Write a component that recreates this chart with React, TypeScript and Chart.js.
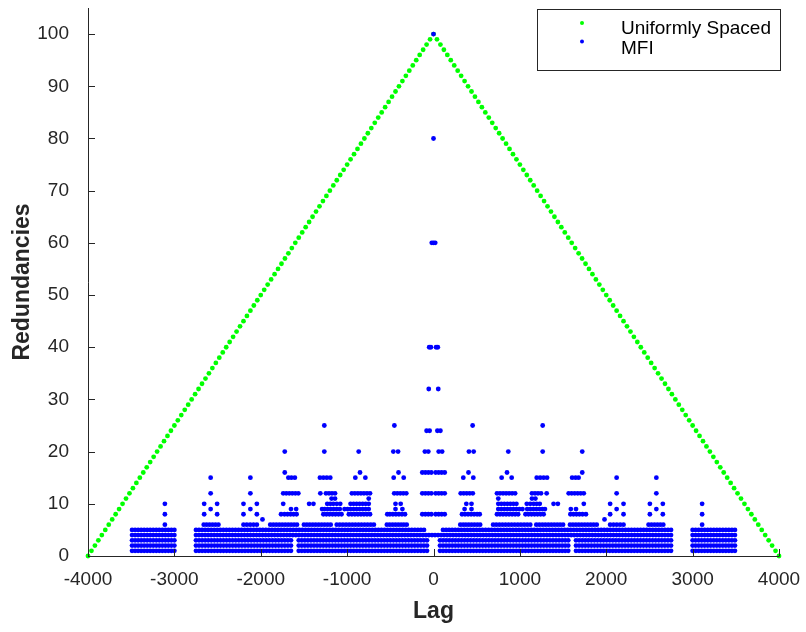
import React, { useEffect, useRef } from 'react';
import { Chart, registerables } from 'chart.js';

Chart.register(...registerables);

// ---------- axis ticks ----------
const xTickValues = [-4000, -3000, -2000, -1000, 0, 1000, 2000, 3000, 4000];
const yTickValues = [0, 10, 20, 30, 40, 50, 60, 70, 80, 90, 100];

// ---------- Uniformly Spaced (green) ----------
const uniformLags = [
  -4000, -3960, -3920, -3880, -3840, -3800, -3760, -3720, -3680, -3640,
  -3600, -3560, -3520, -3480, -3440, -3400, -3360, -3320, -3280, -3240,
  -3200, -3160, -3120, -3080, -3040, -3000, -2960, -2920, -2880, -2840,
  -2800, -2760, -2720, -2680, -2640, -2600, -2560, -2520, -2480, -2440,
  -2400, -2360, -2320, -2280, -2240, -2200, -2160, -2120, -2080, -2040,
  -2000, -1960, -1920, -1880, -1840, -1800, -1760, -1720, -1680, -1640,
  -1600, -1560, -1520, -1480, -1440, -1400, -1360, -1320, -1280, -1240,
  -1200, -1160, -1120, -1080, -1040, -1000, -960, -920, -880, -840,
  -800, -760, -720, -680, -640, -600, -560, -520, -480, -440,
  -400, -360, -320, -280, -240, -200, -160, -120, -80, -40,
  0,
  40, 80, 120, 160, 200, 240, 280, 320, 360, 400,
  440, 480, 520, 560, 600, 640, 680, 720, 760, 800,
  840, 880, 920, 960, 1000, 1040, 1080, 1120, 1160, 1200,
  1240, 1280, 1320, 1360, 1400, 1440, 1480, 1520, 1560, 1600,
  1640, 1680, 1720, 1760, 1800, 1840, 1880, 1920, 1960, 2000,
  2040, 2080, 2120, 2160, 2200, 2240, 2280, 2320, 2360, 2400,
  2440, 2480, 2520, 2560, 2600, 2640, 2680, 2720, 2760, 2800,
  2840, 2880, 2920, 2960, 3000, 3040, 3080, 3120, 3160, 3200,
  3240, 3280, 3320, 3360, 3400, 3440, 3480, 3520, 3560, 3600,
  3640, 3680, 3720, 3760, 3800, 3840, 3880, 3920, 3960, 4000,
];
const uniformRedundancy = [
  0, 1, 2, 3, 4, 5, 6, 7, 8, 9,
  10, 11, 12, 13, 14, 15, 16, 17, 18, 19,
  20, 21, 22, 23, 24, 25, 26, 27, 28, 29,
  30, 31, 32, 33, 34, 35, 36, 37, 38, 39,
  40, 41, 42, 43, 44, 45, 46, 47, 48, 49,
  50, 51, 52, 53, 54, 55, 56, 57, 58, 59,
  60, 61, 62, 63, 64, 65, 66, 67, 68, 69,
  70, 71, 72, 73, 74, 75, 76, 77, 78, 79,
  80, 81, 82, 83, 84, 85, 86, 87, 88, 89,
  90, 91, 92, 93, 94, 95, 96, 97, 98, 99,
  100,
  99, 98, 97, 96, 95, 94, 93, 92, 91, 90,
  89, 88, 87, 86, 85, 84, 83, 82, 81, 80,
  79, 78, 77, 76, 75, 74, 73, 72, 71, 70,
  69, 68, 67, 66, 65, 64, 63, 62, 61, 60,
  59, 58, 57, 56, 55, 54, 53, 52, 51, 50,
  49, 48, 47, 46, 45, 44, 43, 42, 41, 40,
  39, 38, 37, 36, 35, 34, 33, 32, 31, 30,
  29, 28, 27, 26, 25, 24, 23, 22, 21, 20,
  19, 18, 17, 16, 15, 14, 13, 12, 11, 10,
  9, 8, 7, 6, 5, 4, 3, 2, 1, 0,
];

// ---------- MFI (blue): sparse levels, lags per redundancy value ----------
const mfiLevels = [100, 80, 60, 40, 32, 25, 24, 20, 16, 15, 12, 11, 10, 9, 8, 7];
const mfiLags100 = [0];
const mfiLags80 = [0];
const mfiLags60 = [-20, 0, 20];
const mfiLags40 = [-50, -30, 30, 50];
const mfiLags32 = [-55, 55];
const mfiLags25 = [-1264, -453, 453, 1264];
const mfiLags24 = [-80, -45, 45, 80];
const mfiLags20 = [-1722, -1264, -866, -465, -410, -100, -60, 60, 100, 410, 465, 866, 1264, 1722];
const mfiLags16 = [-1722, -851, -405, -130, -95, -60, -25, 25, 60, 95, 130, 405, 851, 1722];
const mfiLags15 = [
  -2580, -2120, -1680, -1645, -1605, -1315, -1275, -1235, -1195, -905, -789, -461, -345,
  345, 461, 789, 905, 1195, 1235, 1275, 1315, 1605, 1645, 1680, 2120, 2580,
];
const mfiLags12 = [
  -2580, -2120, -1740, -1705, -1670, -1635, -1600, -1565, -1310, -1245, -1210, -1175, -1140,
  -945, -910, -875, -840, -805, -770, -735, -455, -420, -385, -350, -315,
  -130, -95, -60, -25, 25, 60, 95, 130,
  315, 350, 385, 420, 455, 735, 770, 805, 840, 875, 910, 945,
  1140, 1175, 1210, 1245, 1310, 1565, 1600, 1635, 1670, 1705, 1740, 2120, 2580,
];
const mfiLags11 = [-1180, -1140, -750, 750, 1140, 1180];
const mfiLags10 = [
  -3110, -2655, -2505, -2200, -2045, -1740, -1440, -1390, -1230, -1195, -1160, -1120, -1080,
  -960, -925, -890, -855, -820, -785, -750, -440, -380,
  380, 440, 750, 785, 820, 855, 890, 925, 960,
  1080, 1120, 1160, 1195, 1230, 1390, 1440, 1740, 2045, 2200, 2505, 2655, 3110,
];
const mfiLags9 = [
  -2580, -2120, -1650, -1590, -1290, -1260, -1225, -1190, -1155, -1120, -1085,
  -1030, -995, -960, -925, -890, -855, -820, -785, -750, -440, -360,
  360, 440, 750, 785, 820, 855, 890, 925, 960, 995, 1030,
  1085, 1120, 1155, 1190, 1225, 1260, 1290, 1590, 1650, 2120, 2580,
];
const mfiLags8 = [
  -3110, -2655, -2505, -2200, -2045, -1765, -1725, -1690, -1655, -1620, -1585,
  -1275, -1240, -1205, -1170, -1135, -1100, -1065,
  -980, -945, -910, -875, -840, -805, -770, -735,
  -535, -505, -470, -435, -400, -365, -330, -130, -95, -60, -25,
  25, 60, 95, 130, 330, 365, 400, 435, 470, 505, 535,
  735, 770, 805, 840, 875, 910, 945, 980,
  1065, 1100, 1135, 1170, 1205, 1240, 1275,
  1585, 1620, 1655, 1690, 1725, 1765, 2045, 2200, 2505, 2655, 3110,
];
const mfiLags7 = [-1980, 1980];

// ---------- MFI (blue): dense runs [from, to] per redundancy value ----------
const mfiRunSpacing = 35;
const mfiRuns6 = [
  [-3110, -3110], [-2660, -2490], [-2200, -2045], [-1890, -1580], [-1500, -1190], [-1120, -690], [-540, -310],
  [310, 540], [690, 1120], [1190, 1500], [1580, 1890], [2045, 2200], [2490, 2660], [3110, 3110],
];
const mfiRuns5 = [[-3490, -3000], [-2750, -110], [110, 2750], [3000, 3490]];
const mfiRuns4 = [[-3490, -3000], [-2750, 2750], [3000, 3490]];
const mfiRuns3 = [[-3490, -3000], [-2750, -1650], [-1560, -75], [75, 1560], [1650, 2750], [3000, 3490]];
const mfiRuns2 = [[-3490, -3000], [-2750, -1650], [-1560, -75], [75, 1560], [1650, 2750], [3000, 3490]];
const mfiRuns1 = [[-3490, -3000], [-2750, -1650], [-1560, -75], [75, 1560], [1650, 2750], [3000, 3490]];

const AXIS_COLOR = '#262626';
const FONT_FAMILY = '"Liberation Sans", Arial, Helvetica, sans-serif';
const DOT_RADIUS = 2.4;

function buildMfiPoints() {
  const sparse = [
    mfiLags100, mfiLags80, mfiLags60, mfiLags40, mfiLags32, mfiLags25, mfiLags24, mfiLags20,
    mfiLags16, mfiLags15, mfiLags12, mfiLags11, mfiLags10, mfiLags9, mfiLags8, mfiLags7,
  ];
  const pts: { x: number; y: number }[] = [];
  sparse.forEach((lags, i) => lags.forEach((x) => pts.push({ x, y: mfiLevels[i] })));
  const runs: [number, number[][]][] = [
    [6, mfiRuns6], [5, mfiRuns5], [4, mfiRuns4], [3, mfiRuns3], [2, mfiRuns2], [1, mfiRuns1],
  ];
  runs.forEach(([level, list]) => {
    list.forEach(([a, b]) => {
      if (a === b) {
        pts.push({ x: a, y: level });
        return;
      }
      const n = Math.max(1, Math.round((b - a) / mfiRunSpacing));
      for (let i = 0; i <= n; i++) pts.push({ x: a + ((b - a) * i) / n, y: level });
    });
  });
  return pts;
}

const decorPlugin = {
  id: 'matlabDecor',
  afterDraw(chart: any) {
    const { ctx, chartArea, scales } = chart;
    const { left, right, top, bottom } = chartArea;
    ctx.save();
    ctx.strokeStyle = AXIS_COLOR;
    ctx.lineWidth = 1;
    ctx.beginPath();
    // axis lines
    ctx.moveTo(Math.round(left) + 0.5, Math.round(top));
    ctx.lineTo(Math.round(left) + 0.5, Math.round(bottom) + 0.5);
    ctx.lineTo(Math.round(right) + 0.5, Math.round(bottom) + 0.5);
    // inward ticks
    xTickValues.forEach((v) => {
      const x = Math.round(scales.x.getPixelForValue(v)) + 0.5;
      ctx.moveTo(x, Math.round(bottom));
      ctx.lineTo(x, Math.round(bottom) - 7);
    });
    yTickValues.forEach((v) => {
      const y = Math.round(scales.y.getPixelForValue(v)) + 0.5;
      ctx.moveTo(Math.round(left), y);
      ctx.lineTo(Math.round(left) + 7, y);
    });
    ctx.stroke();

    // legend box
    const bx = 537.5, by = 9.5, bw = 243, bh = 61;
    ctx.fillStyle = '#ffffff';
    ctx.fillRect(bx, by, bw, bh);
    ctx.strokeStyle = AXIS_COLOR;
    ctx.strokeRect(bx, by, bw, bh);
    const items = chart.data.datasets;
    const rows = [
      { ds: items[0], dotY: 23, textY: 34 },
      { ds: items[1], dotY: 41.5, textY: 54 },
    ];
    ctx.font = `19px ${FONT_FAMILY}`;
    ctx.textBaseline = 'alphabetic';
    ctx.textAlign = 'left';
    rows.forEach((r) => {
      ctx.fillStyle = r.ds.backgroundColor;
      ctx.beginPath();
      ctx.arc(582, r.dotY, 2, 0, Math.PI * 2);
      ctx.fill();
      ctx.fillStyle = '#000000';
      ctx.fillText(r.ds.label, 621, r.textY);
    });
    ctx.restore();
  },
};

export default function App() {
  const ref = useRef<HTMLCanvasElement>(null);
  useEffect(() => {
    document.body.style.margin = '0';
    const canvas = ref.current;
    if (!canvas) return;
    const uniformPoints = uniformLags.map((x, i) => ({ x, y: uniformRedundancy[i] }));
    const mfiPoints = buildMfiPoints();
    const chart = new Chart(canvas, {
      type: 'scatter',
      data: {
        datasets: [
          {
            label: 'Uniformly Spaced',
            data: uniformPoints,
            backgroundColor: '#00ff00',
            borderWidth: 0,
            pointRadius: DOT_RADIUS,
            pointHoverRadius: DOT_RADIUS,
            order: 1,
            clip: false,
          } as any,
          {
            label: 'MFI',
            data: mfiPoints,
            backgroundColor: '#0000ff',
            borderWidth: 0,
            pointRadius: DOT_RADIUS,
            pointHoverRadius: DOT_RADIUS,
            order: 0,
            clip: false,
          } as any,
        ],
      },
      options: {
        responsive: false,
        animation: false,
        devicePixelRatio: 1,
        events: [],
        layout: { padding: { top: 8, right: 27, left: 0, bottom: 0 } },
        plugins: { legend: { display: false }, tooltip: { enabled: false } },
        scales: {
          x: {
            type: 'linear',
            min: -4000,
            max: 4000,
            afterBuildTicks: (s: any) => {
              s.ticks = xTickValues.map((value) => ({ value }));
            },
            afterFit: (s: any) => {
              s.height = 76;
              s.paddingLeft = 0;
              s.paddingRight = 0;
            },
            grid: { display: false },
            border: { display: false },
            ticks: {
              color: AXIS_COLOR,
              font: { family: FONT_FAMILY, size: 19 },
              padding: 4,
              maxRotation: 0,
              callback: (v: any) => String(v),
            },
            title: {
              display: true,
              text: 'Lag',
              color: AXIS_COLOR,
              font: { family: FONT_FAMILY, size: 23, weight: 'bold' },
              padding: { top: 0, bottom: 7 },
            },
          },
          y: {
            type: 'linear',
            min: 0,
            max: 105,
            afterBuildTicks: (s: any) => {
              s.ticks = yTickValues.map((value) => ({ value }));
            },
            afterFit: (s: any) => {
              s.width = 88;
              s.paddingTop = 0;
              s.paddingBottom = 0;
            },
            grid: { display: false },
            border: { display: false },
            ticks: {
              color: AXIS_COLOR,
              font: { family: FONT_FAMILY, size: 19 },
              padding: 11,
              callback: (v: any) => String(v),
            },
            title: {
              display: true,
              text: 'Redundancies',
              color: AXIS_COLOR,
              font: { family: FONT_FAMILY, size: 23, weight: 'bold' },
              padding: { top: 9, bottom: 0 },
            },
          },
        },
      },
      plugins: [decorPlugin],
    } as any);
    return () => chart.destroy();
  }, []);
  return (
    <div style={{ width: 806, height: 632, position: 'relative', background: '#ffffff' }}>
      <canvas ref={ref} width={806} height={632} style={{ display: 'block' }} />
    </div>
  );
}
